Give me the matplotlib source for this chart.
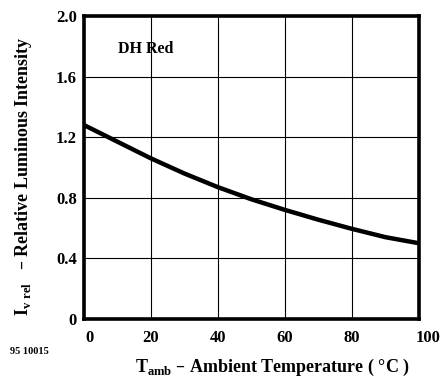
import numpy as np
import matplotlib.pyplot as plt
from matplotlib.transforms import ScaledTranslation

plt.rcParams['font.family'] = ['Liberation Serif', 'DejaVu Serif']

# relative luminous intensity vs ambient temperature
temp = [0, 10, 20, 30, 40, 50, 60, 70, 80, 90, 100]
iv_rel = [1.28, 1.17, 1.06, 0.96, 0.87, 0.79, 0.72, 0.655, 0.595, 0.54, 0.50]

x_ticks = [0, 20, 40, 60, 80, 100]
y_ticks = [0, 0.4, 0.8, 1.2, 1.6, 2.0]
y_labels = ['0', '0.4', '0.8', '1.2', '1.6', '2.0']

fig = plt.figure(figsize=(4.4, 3.78), dpi=100)
ax = fig.add_axes([84 / 440, 1 - 319 / 378, 335 / 440, 303 / 378])

ax.plot(temp, iv_rel, color='black', linewidth=3.2, solid_capstyle='butt')

ax.set_xlim(0, 100)
ax.set_ylim(0, 2.0)
ax.set_xticks(x_ticks)
ax.set_yticks(y_ticks)
ax.set_yticklabels(y_labels)
ax.grid(True, color='black', linewidth=0.8)
ax.tick_params(length=0, labelsize=12)
ax.tick_params(axis='y', pad=5)
ax.tick_params(axis='x', pad=8)
for lbl in ax.get_xticklabels() + ax.get_yticklabels():
    lbl.set_fontweight('bold')

# end labels sit a little right of their gridlines
xl = ax.get_xticklabels()
xl[0].set_transform(xl[0].get_transform() + ScaledTranslation(5 / 100, 0, fig.dpi_scale_trans))
xl[-1].set_transform(xl[-1].get_transform() + ScaledTranslation(9 / 100, 0, fig.dpi_scale_trans))

for side in ['left', 'bottom', 'right', 'top']:
    ax.spines[side].set_linewidth(2.6)

ax.text(10, 1.78, 'DH Red', fontsize=11.5, fontweight='bold', va='center')

ax.set_xlabel(r'T$_{\mathregular{amb}}$ – Ambient Temperature ( °C )',
              fontsize=13, fontweight='bold', labelpad=8)
ax.xaxis.label.set_x(0.563)
ax.set_ylabel(r'I$_{\mathregular{v\ rel}}$   – Relative Luminous Intensity',
              fontsize=13, fontweight='bold', labelpad=16)
ax.yaxis.label.set_y(0.47)

fig.text(10 / 440, 1 - 352 / 378, '95 10015', fontsize=7.5, fontweight='bold',
         va='center')

fig.savefig('out.png', dpi=100)
